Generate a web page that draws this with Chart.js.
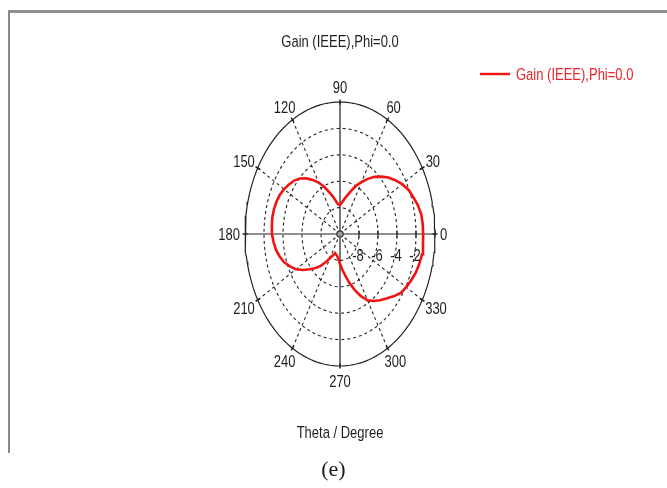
<!DOCTYPE html>
<html>
<head>
<meta charset="utf-8">
<script src="https://cdn.jsdelivr.net/npm/chart.js@4.4.1/dist/chart.umd.min.js"></script>
<style>
  html, body { margin: 0; padding: 0; background: #fff; }
  #wrap { position: relative; width: 667px; height: 488px; overflow: hidden; }
  #frame { position: absolute; left: 8px; top: 10px; width: 700px; height: 443px;
           border-top: 3px solid #8e8e8e; border-left: 2px solid #8a8a8a; box-sizing: border-box; }
  canvas { position: absolute; left: 0; top: 0; }
  #cap { position: absolute; left: 0; width: 667px; top: 456px; line-height: 26px; text-align: center;
         font: 22px "Liberation Serif", "DejaVu Serif", serif; color: #1a1a1a; }
</style>
</head>
<body>
<div id="wrap">
  <div id="frame"></div>
  <canvas id="c" width="667" height="488"></canvas>
  <div id="cap">(e)</div>
</div>
<script>
// Far-field cut, theta in degrees (counter-clockwise from 0), gain in dB
const thetaDeg = [
  0, 5, 10, 15, 20, 25, 30, 35, 40, 45, 50, 55,
  60, 65, 70, 75, 80, 85, 90, 95, 100, 105, 110, 115,
  120, 125, 130, 135, 140, 145, 150, 155, 160, 165, 170, 175,
  180, 185, 190, 195, 200, 205, 210, 215, 220, 225, 230, 235,
  240, 245, 250, 255, 260, 265, 270, 275, 280, 285, 290, 295,
  300, 305, 310, 315, 320, 325, 330, 335, 340, 345, 350, 355
];
const gainDb = [
  -1.25, -1.26, -1.32, -1.52, -1.80, -2.05, -2.45, -2.90, -3.35, -3.85, -4.35, -4.90,
  -5.45, -5.95, -6.50, -6.95, -7.30, -7.60, -7.80, -7.75, -7.45, -7.05, -6.60, -6.05,
  -5.50, -5.00, -4.50, -4.05, -3.70, -3.45, -3.20, -3.00, -2.88, -2.80, -2.77, -2.80,
  -2.84, -2.98, -3.15, -3.42, -3.75, -4.20, -4.65, -5.25, -5.85, -6.35, -6.85, -7.40,
  -7.90, -8.20, -8.47, -8.40, -8.30, -8.10, -7.75, -7.30, -6.80, -6.15, -5.50, -4.80,
  -4.20, -3.80, -3.45, -3.10, -2.65, -2.20, -1.95, -1.72, -1.50, -1.35, -1.22, -1.23
];
const angleTicks = [0, 30, 60, 90, 120, 150, 180, 210, 240, 270, 300, 330];
const radialTicks = [-8, -6, -4, -2];
const radialRange = [-10, 0];
const titleText = 'Gain (IEEE),Phi=0.0';
const seriesName = 'Gain (IEEE),Phi=0.0';
const axisTitle = 'Theta / Degree';

const R0 = radialRange[0];
const RMAX = radialRange[1] - radialRange[0];
const rad = d => d * Math.PI / 180;
function polar(deg, db) {
  const r = db - R0;
  return { x: r * Math.cos(rad(deg)), y: r * Math.sin(rad(deg)) };
}
function ring(db) {
  const pts = [];
  for (let a = 0; a <= 360; a += 2) pts.push(polar(a, db));
  return pts;
}

const GRID = '#222';
const RED = '#f01414';

const datasets = [];
// pattern trace (first = drawn on top)
const trace = thetaDeg.map((t, i) => polar(t, gainDb[i]));
trace.push(trace[0]);
datasets.push({ data: trace, borderColor: RED, borderWidth: 2.6, pointRadius: 0, showLine: true, clip: false });

// centre marker
datasets.push({ data: [{ x: 0, y: 0 }], pointRadius: 3.2, pointBackgroundColor: '#9a9a9a',
  pointBorderColor: '#333', pointBorderWidth: 1.2, showLine: false, clip: false });

// small ticks on the 0-degree axis
datasets.push({ data: radialTicks.concat([radialRange[1]]).map(v => polar(0, v)),
  pointStyle: 'line', rotation: 90, pointRadius: 3.5, pointBorderColor: GRID, pointBorderWidth: 1.2,
  showLine: false, clip: false });

// small ticks on the outer ring at each angle label
angleTicks.forEach(a => {
  datasets.push({ data: [polar(a, radialRange[1])], pointStyle: 'line', rotation: -a, pointRadius: 2.5,
    pointBorderColor: GRID, pointBorderWidth: 1.5, showLine: false, clip: false });
});

// solid main axes
[[0, 180], [90, 270]].forEach(([a, b]) => {
  datasets.push({ data: [polar(a, radialRange[1]), polar(b, radialRange[1])], borderColor: GRID,
    borderWidth: 1.2, pointRadius: 0, showLine: true, clip: false });
});

// dashed spokes
angleTicks.filter(a => a % 90 !== 0).forEach(a => {
  datasets.push({ data: [{ x: 0, y: 0 }, polar(a, radialRange[1])], borderColor: GRID, borderWidth: 1.1,
    borderDash: [3, 3], pointRadius: 0, showLine: true, clip: false });
});

// outer ring
datasets.push({ data: ring(radialRange[1]), borderColor: GRID, borderWidth: 1.2, pointRadius: 0,
  showLine: true, clip: false });

// dashed rings
radialTicks.forEach(v => {
  datasets.push({ data: ring(v), borderColor: GRID, borderWidth: 1.1, borderDash: [3, 3],
    pointRadius: 0, showLine: true, clip: false });
});

const FONT = '13px "Liberation Sans", Arial, sans-serif';
const SY = 1.3;       // tall glyphs
const CAP = 9.3;      // cap height of the font before stretching

function tallText(ctx, text, x, y, color, align) {
  ctx.save();
  ctx.font = FONT;
  ctx.fillStyle = color;
  ctx.textAlign = align || 'center';
  ctx.textBaseline = 'alphabetic';
  ctx.translate(x, y);
  ctx.scale(1, SY);
  ctx.fillText(text, 0, CAP / 2);
  ctx.restore();
}

const labelsPlugin = {
  id: 'polarLabels',
  afterDraw(chart) {
    const ctx = chart.ctx;
    const sx = chart.scales.x, sy = chart.scales.y;
    const cx = sx.getPixelForValue(0), cy = sy.getPixelForValue(0);
    const txt = '#1e1e1e';

    // angle labels outside the outer ring
    ctx.save();
    ctx.font = FONT;
    angleTicks.forEach(a => {
      const p = polar(a, radialRange[1]);
      const ax = sx.getPixelForValue(p.x), ay = sy.getPixelForValue(p.y);
      const w = ctx.measureText(String(a)).width;
      const h = CAP * SY;
      const c = Math.cos(rad(a)), s = Math.sin(rad(a));
      const lx = ax + c * (5 + w / 2);
      const ly = ay - s * (9 + h / 2);
      tallText(ctx, String(a), lx, ly, txt);
    });
    ctx.restore();

    // radial value labels beneath the 0-degree axis
    radialTicks.forEach(v => {
      const p = polar(0, v);
      tallText(ctx, String(v), sx.getPixelForValue(p.x) - 1, cy + 21, txt);
    });

    // title and axis caption
    tallText(ctx, titleText, cx, 41, txt);
    tallText(ctx, axisTitle, cx, 432, txt);

    // legend
    ctx.save();
    ctx.strokeStyle = RED;
    ctx.lineWidth = 2.4;
    ctx.beginPath();
    ctx.moveTo(480, 74);
    ctx.lineTo(510, 74);
    ctx.stroke();
    ctx.restore();
    tallText(ctx, seriesName, 516, 74, '#e8242c', 'left');
  }
};

new Chart(document.getElementById('c'), {
  type: 'scatter',
  data: { datasets },
  options: {
    responsive: false,
    animation: false,
    events: [],
    layout: { padding: { left: 245, right: 232, top: 102, bottom: 122 } },
    plugins: { legend: { display: false }, tooltip: { enabled: false }, title: { display: false } },
    scales: {
      x: { type: 'linear', min: -RMAX, max: RMAX, display: false },
      y: { type: 'linear', min: -RMAX, max: RMAX, display: false }
    }
  },
  plugins: [labelsPlugin]
});
</script>
</body>
</html>
